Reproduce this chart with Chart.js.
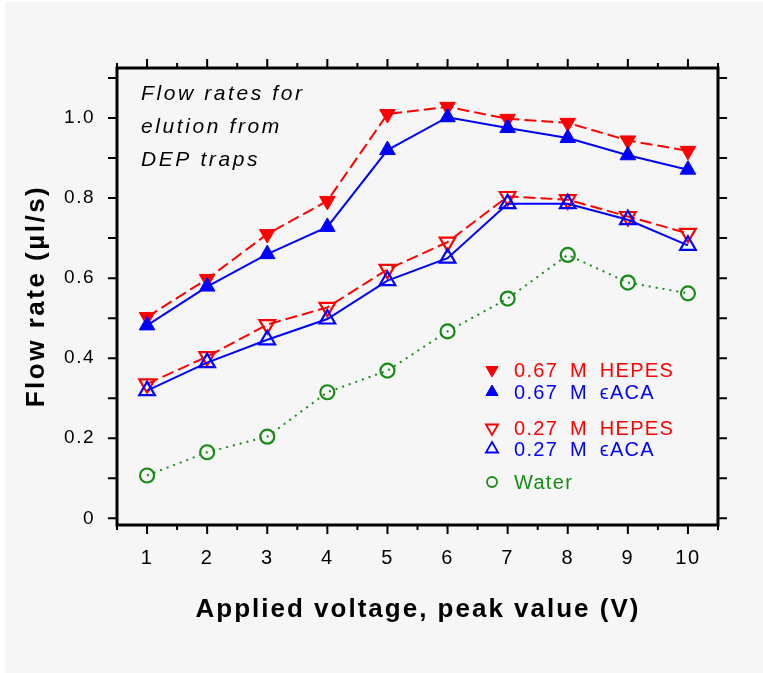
<!DOCTYPE html>
<html>
<head>
<meta charset="utf-8">
<script src="https://cdn.jsdelivr.net/npm/chart.js@4.4.1/dist/chart.umd.min.js"></script>
<style>
  html, body { margin: 0; padding: 0; background: #ffffff; }
  #wrap { width: 763px; height: 673px; }
</style>
</head>
<body>
<div id="wrap"><canvas id="c" width="763" height="673"></canvas></div>
<script>
// ---- Data ----
const voltages = [1, 2, 3, 4, 5, 6, 7, 8, 9, 10];
const hepes067 = [0.503, 0.598, 0.710, 0.793, 1.010, 1.028, 0.998, 0.988, 0.944, 0.918];
const eaca067  = [0.482, 0.579, 0.660, 0.728, 0.920, 1.002, 0.975, 0.950, 0.907, 0.871];
const hepes027 = [0.336, 0.404, 0.484, 0.527, 0.622, 0.690, 0.804, 0.796, 0.754, 0.712];
const eaca027  = [0.319, 0.389, 0.446, 0.498, 0.594, 0.650, 0.786, 0.786, 0.746, 0.682];
const water    = [0.107, 0.165, 0.204, 0.315, 0.369, 0.467, 0.549, 0.658, 0.589, 0.562];
const yTickValues = [0, 0.2, 0.4, 0.6, 0.8, 1.0];
const yMinorTicks = [0, 0.1, 0.2, 0.3, 0.4, 0.5, 0.6, 0.7, 0.8, 0.9, 1.0, 1.1];
const xMinorTicks = [0.5, 1.5, 2.5, 3.5, 4.5, 5.5, 6.5, 7.5, 8.5, 9.5, 10.5];
const seriesLabels = ['0.67 M HEPES', '0.67 M \u03F5ACA', '0.27 M HEPES', '0.27 M \u03F5ACA', 'Water'];
const noteLines = ['Flow rates for', 'elution from', 'DEP traps'];
const xTitle = 'Applied voltage, peak value (V)';
const yTitle = 'Flow rate (\u00B5l/s)';

const RED = '#ff0000', BLUE = '#0000ff', GREEN = '#178a17';
const FONT = '"Liberation Sans", Arial, Helvetica, sans-serif';

function pt(xs, ys) { return xs.map((x, i) => ({ x: x, y: ys[i] })); }

const datasets = [
  { label: seriesLabels[0], data: pt(voltages, hepes067), order: 2,
    borderColor: RED, borderWidth: 2, borderDash: [12, 5],
    pointStyle: 'triangle', rotation: 180, pointRadius: 9, pointHoverRadius: 9,
    pointBackgroundColor: RED, pointBorderColor: RED, pointBorderWidth: 1,
    legendFill: true },
  { label: seriesLabels[1], data: pt(voltages, eaca067), order: 1,
    borderColor: BLUE, borderWidth: 2,
    pointStyle: 'triangle', rotation: 0, pointRadius: 9, pointHoverRadius: 9,
    pointBackgroundColor: BLUE, pointBorderColor: BLUE, pointBorderWidth: 1,
    legendFill: true },
  { label: seriesLabels[2], data: pt(voltages, hepes027), order: 4,
    borderColor: RED, borderWidth: 2, borderDash: [12, 5],
    pointStyle: 'triangle', rotation: 180, pointRadius: 9, pointHoverRadius: 9,
    pointBackgroundColor: 'rgba(0,0,0,0)', pointBorderColor: RED, pointBorderWidth: 2.2,
    legendFill: false },
  { label: seriesLabels[3], data: pt(voltages, eaca027), order: 3,
    borderColor: BLUE, borderWidth: 2,
    pointStyle: 'triangle', rotation: 0, pointRadius: 9, pointHoverRadius: 9,
    pointBackgroundColor: 'rgba(0,0,0,0)', pointBorderColor: BLUE, pointBorderWidth: 2.2,
    legendFill: false },
  { label: seriesLabels[4], data: pt(voltages, water), order: 5,
    borderColor: GREEN, borderWidth: 2, borderDash: [2, 5],
    pointStyle: 'circle', pointRadius: 7, pointHoverRadius: 7,
    pointBackgroundColor: 'rgba(0,0,0,0)', pointBorderColor: GREEN, pointBorderWidth: 2.2,
    legendFill: false }
];
datasets.forEach(d => { d.fill = false; d.tension = 0; d.showLine = true; });

function drawMarker(ctx, style, rot, x, y, r, color, filled, lw) {
  ctx.save();
  ctx.beginPath();
  if (style === 'circle') {
    ctx.arc(x, y, r, 0, Math.PI * 2);
  } else {
    let a = rot * Math.PI / 180;
    for (let k = 0; k < 3; k++) {
      const px = x + Math.sin(a) * r, py = y - Math.cos(a) * r;
      if (k === 0) ctx.moveTo(px, py); else ctx.lineTo(px, py);
      a += 2 * Math.PI / 3;
    }
    ctx.closePath();
  }
  ctx.setLineDash([]);
  ctx.lineWidth = lw;
  ctx.strokeStyle = color;
  if (filled) { ctx.fillStyle = color; ctx.fill(); }
  ctx.stroke();
  ctx.restore();
}

const decorPlugin = {
  id: 'decor',
  beforeDraw(chart) {
    const ctx = chart.ctx;
    ctx.save();
    ctx.fillStyle = '#ffffff';
    ctx.fillRect(0, 0, chart.width, chart.height);
    ctx.fillStyle = '#f6f6f6';
    ctx.fillRect(5, 2, chart.width - 5, chart.height - 2);
    ctx.restore();
    ctx.letterSpacing = '1.5px';
  },
  afterDraw(chart) {
    const ctx = chart.ctx;
    const a = chart.chartArea;
    const xs = chart.scales.x, ys = chart.scales.y;
    ctx.save();
    ctx.strokeStyle = '#000';
    ctx.setLineDash([]);
    // tick marks
    ctx.lineWidth = 2;
    ctx.beginPath();
    voltages.forEach(v => {
      const px = xs.getPixelForValue(v);
      ctx.moveTo(px, a.top); ctx.lineTo(px, a.top - 9);
      ctx.moveTo(px, a.bottom); ctx.lineTo(px, a.bottom + 9);
    });
    xMinorTicks.forEach(v => {
      const px = xs.getPixelForValue(v);
      ctx.moveTo(px, a.top); ctx.lineTo(px, a.top - 5);
      ctx.moveTo(px, a.bottom); ctx.lineTo(px, a.bottom + 5);
    });
    yMinorTicks.forEach(v => {
      const py = ys.getPixelForValue(v);
      ctx.moveTo(a.left, py); ctx.lineTo(a.left - 9, py);
      ctx.moveTo(a.right, py); ctx.lineTo(a.right + 9, py);
    });
    ctx.stroke();
    // frame
    ctx.lineWidth = 3;
    ctx.strokeRect(a.left, a.top, a.right - a.left, a.bottom - a.top);

    // annotation
    ctx.fillStyle = '#000';
    ctx.letterSpacing = '2.6px';
    ctx.font = 'italic 21px ' + FONT;
    ctx.textAlign = 'left';
    ctx.textBaseline = 'alphabetic';
    noteLines.forEach((t, i) => ctx.fillText(t, 141, 100 + i * 33));

    // legend
    const legendRows = [
      { i: 0, y: 370 }, { i: 1, y: 392 }, { i: 2, y: 428 }, { i: 3, y: 449 }, { i: 4, y: 482 }
    ];
    ctx.font = '20px ' + FONT;
    ctx.letterSpacing = '1.3px';
    try { ctx.wordSpacing = '5px'; } catch (e) {}
    ctx.textBaseline = 'middle';
    legendRows.forEach(r => {
      const d = chart.data.datasets[r.i];
      const col = d.pointBorderColor;
      const rad = d.pointStyle === 'circle' ? 5 : 7;
      drawMarker(ctx, d.pointStyle, d.rotation || 0, 492, r.y, rad, col, d.legendFill, d.legendFill ? 1 : 1.8);
      ctx.fillStyle = col;
      ctx.fillText(d.label, 514, r.y + 1);
    });
    try { ctx.wordSpacing = '0px'; } catch (e) {}

    // axis titles
    ctx.fillStyle = '#000';
    ctx.font = 'bold 26px ' + FONT;
    ctx.letterSpacing = '2px';
    ctx.textAlign = 'center';
    ctx.textBaseline = 'alphabetic';
    ctx.fillText(xTitle, 418, 617);
    ctx.save();
    ctx.translate(44, 296);
    ctx.rotate(-Math.PI / 2);
    ctx.letterSpacing = '2.5px';
    ctx.fillText(yTitle, 0, 0);
    ctx.restore();
    ctx.restore();
  }
};

new Chart(document.getElementById('c'), {
  type: 'line',
  data: { datasets: datasets },
  options: {
    responsive: false,
    animation: false,
    events: [],
    layout: { padding: { left: 0, top: 68, right: 45, bottom: 0 } },
    plugins: { legend: { display: false }, tooltip: { enabled: false } },
    scales: {
      x: {
        type: 'linear', min: 0.5, max: 10.5,
        afterBuildTicks: s => { s.ticks = voltages.map(v => ({ value: v })); },
        afterFit: s => { s.height = 148; },
        grid: { display: false, drawTicks: false },
        border: { display: false },
        ticks: { color: '#000', padding: 21, maxRotation: 0, autoSkip: false,
                 font: { family: FONT, size: 20 },
                 callback: v => String(v) }
      },
      y: {
        type: 'linear', min: -0.0167, max: 1.125,
        afterBuildTicks: s => { s.ticks = yTickValues.map(v => ({ value: v })); },
        afterFit: s => { s.width = 117; },
        grid: { display: false, drawTicks: false },
        border: { display: false },
        ticks: { color: '#000', padding: 22, autoSkip: false,
                 font: { family: FONT, size: 19 },
                 callback: v => (v === 0 ? '0' : v.toFixed(1)) }
      }
    }
  },
  plugins: [decorPlugin]
});
</script>
</body>
</html>
